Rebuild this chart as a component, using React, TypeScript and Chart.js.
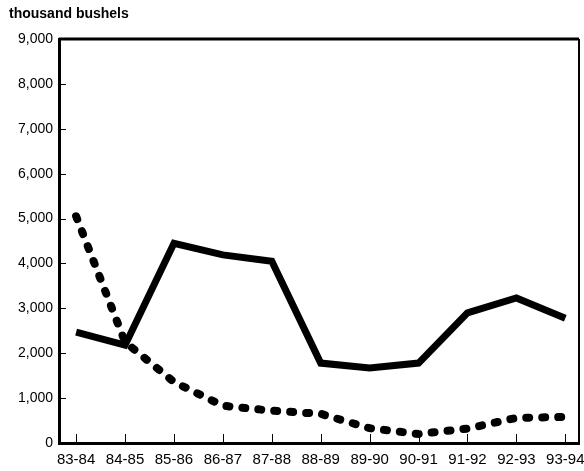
import React, { useEffect, useRef } from "react";
import { Chart, registerables } from "chart.js";

Chart.register(...registerables);

const categories = ["83-84", "84-85", "85-86", "86-87", "87-88", "88-89", "89-90", "90-91", "91-92", "92-93", "93-94"];
const solidSeries = [2470, 2180, 4450, 4190, 4050, 1780, 1670, 1780, 2900, 3230, 2780];
const dashedSeries = [5050, 2250, 1360, 830, 720, 650, 330, 200, 320, 560, 580];
const yTicks = [0, 1000, 2000, 3000, 4000, 5000, 6000, 7000, 8000, 9000];
const yTitle = "thousand bushels";

const framePlugin = {
  id: "frame",
  afterDraw(chart: any) {
    const { ctx, chartArea } = chart;
    const xs = chart.scales.x;
    const ys = chart.scales.y;
    ctx.save();
    ctx.strokeStyle = "#000";
    ctx.lineWidth = 3;
    ctx.beginPath();
    ctx.moveTo(chartArea.left, chartArea.top);
    ctx.lineTo(chartArea.right, chartArea.top);
    ctx.stroke();
    ctx.lineWidth = 2;
    ctx.beginPath();
    ctx.moveTo(chartArea.right, chartArea.top);
    ctx.lineTo(chartArea.right, chartArea.bottom);
    ctx.stroke();
    ctx.lineWidth = 1;
    yTicks.forEach((v) => {
      const y = Math.round(ys.getPixelForValue(v)) + 0.5;
      ctx.beginPath();
      ctx.moveTo(chartArea.left, y);
      ctx.lineTo(chartArea.left + 7, y);
      ctx.stroke();
    });
    categories.forEach((_, i) => {
      const x = Math.round(xs.getPixelForValue(i)) + 0.5;
      ctx.beginPath();
      ctx.moveTo(x, chartArea.bottom);
      ctx.lineTo(x, chartArea.bottom - 9);
      ctx.stroke();
    });
    ctx.fillStyle = "#000";
    ctx.font = "bold 14px 'Liberation Sans', Arial, sans-serif";
    ctx.textAlign = "left";
    ctx.textBaseline = "alphabetic";
    ctx.fillText(yTitle, 9, 18);
    ctx.restore();
  },
};

export default function App() {
  const ref = useRef<HTMLCanvasElement | null>(null);
  useEffect(() => {
    document.body.style.margin = "0";
    const canvas = ref.current!;
    const chart = new Chart(canvas, {
      type: "line",
      data: {
        datasets: [
          {
            label: "solid",
            data: solidSeries.map((v, i) => ({ x: i, y: v })),
            borderColor: "#000",
            borderWidth: 7,
            pointRadius: 0,
            tension: 0,
            borderJoinStyle: "miter",
          },
          {
            label: "dashed",
            data: dashedSeries.map((v, i) => ({ x: i, y: v })),
            borderColor: "#000",
            borderWidth: 8,
            borderDash: [3, 13],
            borderCapStyle: "round",
            pointRadius: 0,
            tension: 0,
          },
        ],
      },
      options: {
        animation: false,
        responsive: false,
        maintainAspectRatio: false,
        layout: { padding: { left: 0, top: 39, right: 5, bottom: 0 } },
        plugins: { legend: { display: false }, tooltip: { enabled: false } },
        scales: {
          x: {
            type: "linear",
            min: -0.35,
            max: 10.28,
            afterFit: (s: any) => { s.height = 28; s.paddingLeft = 0; s.paddingRight = 0; },
            afterBuildTicks: (s: any) => {
              s.ticks = categories.map((_, i) => ({ value: i }));
            },
            grid: { display: false, drawTicks: false },
            border: { display: true, color: "#000", width: 3 },
            ticks: {
              padding: 8,
              color: "#000",
              font: { family: "'Liberation Sans', Arial, sans-serif", size: 15 },
              callback: (v: any) => categories[v] ?? "",
              maxRotation: 0,
              autoSkip: false,
            },
          },
          y: {
            min: 0,
            max: 9000,
            afterFit: (s: any) => { s.width = 59; s.paddingTop = 0; s.paddingBottom = 0; },
            afterBuildTicks: (s: any) => {
              s.ticks = yTicks.map((v) => ({ value: v }));
            },
            grid: { display: false, drawTicks: false },
            border: { display: true, color: "#000", width: 3 },
            ticks: {
              padding: 6,
              color: "#000",
              font: { family: "'Liberation Sans', Arial, sans-serif", size: 14 },
              callback: (v: any) => Number(v).toLocaleString("en-US"),
            },
          },
        },
      },
      plugins: [framePlugin],
    } as any);
    return () => chart.destroy();
  }, []);
  return (
    <div style={{ width: 584, height: 471 }}>
      <canvas ref={ref} width={584} height={471} style={{ display: "block" }} />
    </div>
  );
}
